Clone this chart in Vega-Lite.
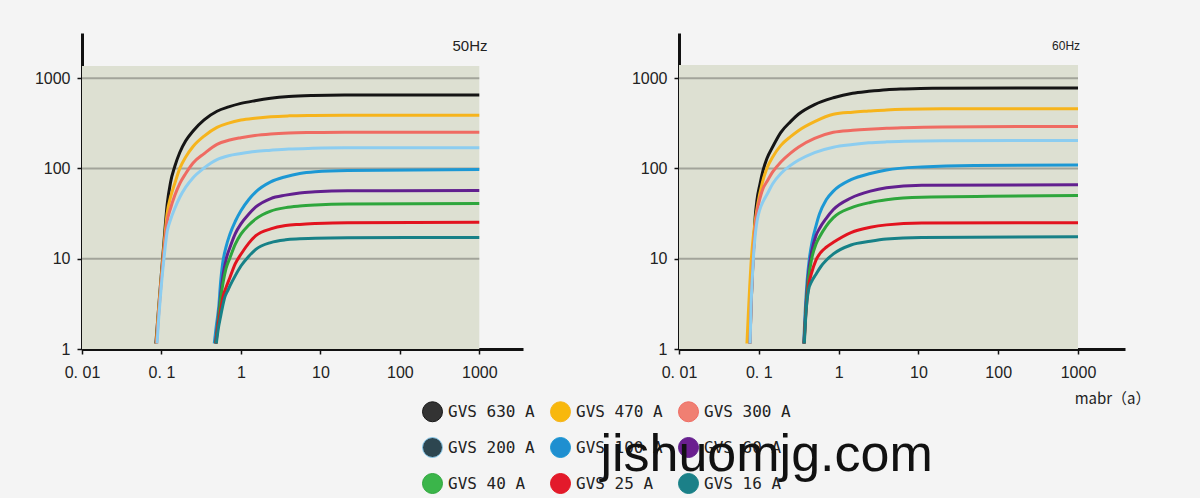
{
"$schema": "https://vega.github.io/schema/vega-lite/v6.json",
"background": "#f4f4f4",
"padding": {"left": 34, "top": 33, "right": 60, "bottom": 5},
"config": {
  "view": {"stroke": null},
  "font": "Liberation Sans",
  "axis": {"grid": false, "domainColor": "#111111", "domainWidth": 3, "tickColor": "#111111", "tickWidth": 1.5, "tickSize": 5, "labelColor": "#222222", "labelFontSize": 16, "labelFont": "Liberation Sans", "labelFlush": false, "labelOverlap": false},
  "axisY": {"labelPadding": 7},
  "axisX": {"labelPadding": 10}
},
"title": {"text": "jishuomjg.com", "orient": "bottom", "anchor": "start", "dx": 566, "offset": -66, "font": "Liberation Sans", "fontSize": 52, "fontWeight": "normal", "color": "#111111", "baseline": "top"},
"datasets": {
"c50": [
{"s":"GVS 630 A","x":0.085,"y":1.15},{"s":"GVS 630 A","x":0.09,"y":2.2},{"s":"GVS 630 A","x":0.095,"y":4},{"s":"GVS 630 A","x":0.1,"y":7},{"s":"GVS 630 A","x":0.107,"y":14.5},{"s":"GVS 630 A","x":0.118,"y":40},{"s":"GVS 630 A","x":0.13,"y":70},{"s":"GVS 630 A","x":0.147,"y":105},{"s":"GVS 630 A","x":0.17,"y":150},{"s":"GVS 630 A","x":0.202,"y":202},{"s":"GVS 630 A","x":0.25,"y":260},{"s":"GVS 630 A","x":0.344,"y":345},{"s":"GVS 630 A","x":0.5,"y":430},{"s":"GVS 630 A","x":0.7,"y":480},{"s":"GVS 630 A","x":1,"y":525},{"s":"GVS 630 A","x":1.5,"y":562},{"s":"GVS 630 A","x":2.37,"y":598},{"s":"GVS 630 A","x":4,"y":625},{"s":"GVS 630 A","x":8,"y":642},{"s":"GVS 630 A","x":20,"y":650},{"s":"GVS 630 A","x":1000,"y":650},
{"s":"GVS 470 A","x":0.086,"y":1.15},{"s":"GVS 470 A","x":0.09,"y":2.1},{"s":"GVS 470 A","x":0.095,"y":3.8},{"s":"GVS 470 A","x":0.1,"y":6.6},{"s":"GVS 470 A","x":0.107,"y":13},{"s":"GVS 470 A","x":0.118,"y":32},{"s":"GVS 470 A","x":0.13,"y":48},{"s":"GVS 470 A","x":0.147,"y":68},{"s":"GVS 470 A","x":0.17,"y":100},{"s":"GVS 470 A","x":0.202,"y":134},{"s":"GVS 470 A","x":0.25,"y":175},{"s":"GVS 470 A","x":0.344,"y":228},{"s":"GVS 470 A","x":0.5,"y":285},{"s":"GVS 470 A","x":0.7,"y":318},{"s":"GVS 470 A","x":1,"y":343},{"s":"GVS 470 A","x":1.5,"y":360},{"s":"GVS 470 A","x":2.37,"y":374},{"s":"GVS 470 A","x":4,"y":382},{"s":"GVS 470 A","x":8,"y":386},{"s":"GVS 470 A","x":20,"y":388},{"s":"GVS 470 A","x":1000,"y":388},
{"s":"GVS 300 A","x":0.087,"y":1.15},{"s":"GVS 300 A","x":0.091,"y":2.1},{"s":"GVS 300 A","x":0.096,"y":3.8},{"s":"GVS 300 A","x":0.1,"y":6},{"s":"GVS 300 A","x":0.107,"y":11.5},{"s":"GVS 300 A","x":0.118,"y":26},{"s":"GVS 300 A","x":0.13,"y":36},{"s":"GVS 300 A","x":0.147,"y":50},{"s":"GVS 300 A","x":0.17,"y":68},{"s":"GVS 300 A","x":0.202,"y":88},{"s":"GVS 300 A","x":0.25,"y":115},{"s":"GVS 300 A","x":0.344,"y":146},{"s":"GVS 300 A","x":0.5,"y":185},{"s":"GVS 300 A","x":0.7,"y":205},{"s":"GVS 300 A","x":1,"y":219},{"s":"GVS 300 A","x":1.5,"y":232},{"s":"GVS 300 A","x":2.37,"y":241},{"s":"GVS 300 A","x":4,"y":247},{"s":"GVS 300 A","x":8,"y":250},{"s":"GVS 300 A","x":20,"y":252},{"s":"GVS 300 A","x":1000,"y":252},
{"s":"GVS 200 A","x":0.088,"y":1.15},{"s":"GVS 200 A","x":0.092,"y":2.1},{"s":"GVS 200 A","x":0.097,"y":3.8},{"s":"GVS 200 A","x":0.101,"y":5.8},{"s":"GVS 200 A","x":0.108,"y":10.5},{"s":"GVS 200 A","x":0.118,"y":20},{"s":"GVS 200 A","x":0.13,"y":27},{"s":"GVS 200 A","x":0.147,"y":36},{"s":"GVS 200 A","x":0.17,"y":48},{"s":"GVS 200 A","x":0.202,"y":62},{"s":"GVS 200 A","x":0.25,"y":79},{"s":"GVS 200 A","x":0.344,"y":101},{"s":"GVS 200 A","x":0.5,"y":125},{"s":"GVS 200 A","x":0.7,"y":138},{"s":"GVS 200 A","x":1,"y":146},{"s":"GVS 200 A","x":1.5,"y":154},{"s":"GVS 200 A","x":2.37,"y":159},{"s":"GVS 200 A","x":4,"y":164},{"s":"GVS 200 A","x":8,"y":167},{"s":"GVS 200 A","x":20,"y":169},{"s":"GVS 200 A","x":1000,"y":169},
{"s":"GVS 100 A","x":0.462,"y":1.15},{"s":"GVS 100 A","x":0.49,"y":1.8},{"s":"GVS 100 A","x":0.527,"y":3},{"s":"GVS 100 A","x":0.555,"y":5.5},{"s":"GVS 100 A","x":0.586,"y":8.6},{"s":"GVS 100 A","x":0.65,"y":13.5},{"s":"GVS 100 A","x":0.727,"y":18.7},{"s":"GVS 100 A","x":0.85,"y":26},{"s":"GVS 100 A","x":1,"y":34},{"s":"GVS 100 A","x":1.25,"y":45},{"s":"GVS 100 A","x":1.54,"y":55},{"s":"GVS 100 A","x":2.37,"y":71},{"s":"GVS 100 A","x":3.65,"y":81},{"s":"GVS 100 A","x":5.5,"y":88},{"s":"GVS 100 A","x":8.6,"y":92},{"s":"GVS 100 A","x":22,"y":95},{"s":"GVS 100 A","x":1000,"y":97},
{"s":"GVS 60 A","x":0.48,"y":1.15},{"s":"GVS 60 A","x":0.51,"y":1.9},{"s":"GVS 60 A","x":0.53,"y":2.6},{"s":"GVS 60 A","x":0.56,"y":4.2},{"s":"GVS 60 A","x":0.6,"y":6.8},{"s":"GVS 60 A","x":0.65,"y":9.8},{"s":"GVS 60 A","x":0.727,"y":13.3},{"s":"GVS 60 A","x":0.85,"y":19},{"s":"GVS 60 A","x":1,"y":24.3},{"s":"GVS 60 A","x":1.25,"y":31},{"s":"GVS 60 A","x":1.54,"y":37.4},{"s":"GVS 60 A","x":2.37,"y":46.4},{"s":"GVS 60 A","x":3.65,"y":50.6},{"s":"GVS 60 A","x":5.5,"y":53.5},{"s":"GVS 60 A","x":8.6,"y":55},{"s":"GVS 60 A","x":22,"y":56.5},{"s":"GVS 60 A","x":1000,"y":57},
{"s":"GVS 40 A","x":0.482,"y":1.15},{"s":"GVS 40 A","x":0.51,"y":1.8},{"s":"GVS 40 A","x":0.53,"y":2.4},{"s":"GVS 40 A","x":0.56,"y":3.8},{"s":"GVS 40 A","x":0.6,"y":5.6},{"s":"GVS 40 A","x":0.65,"y":7.8},{"s":"GVS 40 A","x":0.727,"y":10.2},{"s":"GVS 40 A","x":0.85,"y":14.5},{"s":"GVS 40 A","x":1,"y":18.7},{"s":"GVS 40 A","x":1.25,"y":23.5},{"s":"GVS 40 A","x":1.54,"y":27.6},{"s":"GVS 40 A","x":2.37,"y":33.7},{"s":"GVS 40 A","x":3.65,"y":36.8},{"s":"GVS 40 A","x":5.5,"y":38.3},{"s":"GVS 40 A","x":8.6,"y":39.3},{"s":"GVS 40 A","x":22,"y":40.3},{"s":"GVS 40 A","x":1000,"y":40.8},
{"s":"GVS 25 A","x":0.485,"y":1.15},{"s":"GVS 25 A","x":0.515,"y":1.8},{"s":"GVS 25 A","x":0.54,"y":2.3},{"s":"GVS 25 A","x":0.57,"y":3.1},{"s":"GVS 25 A","x":0.6,"y":3.9},{"s":"GVS 25 A","x":0.65,"y":4.8},{"s":"GVS 25 A","x":0.727,"y":6.2},{"s":"GVS 25 A","x":0.85,"y":8.8},{"s":"GVS 25 A","x":1,"y":11.2},{"s":"GVS 25 A","x":1.25,"y":14.8},{"s":"GVS 25 A","x":1.54,"y":18},{"s":"GVS 25 A","x":2.37,"y":21.4},{"s":"GVS 25 A","x":3.65,"y":23.3},{"s":"GVS 25 A","x":5.5,"y":24},{"s":"GVS 25 A","x":8.6,"y":24.5},{"s":"GVS 25 A","x":22,"y":25.1},{"s":"GVS 25 A","x":1000,"y":25.4},
{"s":"GVS 16 A","x":0.49,"y":1.15},{"s":"GVS 16 A","x":0.52,"y":1.7},{"s":"GVS 16 A","x":0.55,"y":2.2},{"s":"GVS 16 A","x":0.59,"y":3},{"s":"GVS 16 A","x":0.63,"y":3.8},{"s":"GVS 16 A","x":0.68,"y":4.4},{"s":"GVS 16 A","x":0.727,"y":5},{"s":"GVS 16 A","x":0.85,"y":6.5},{"s":"GVS 16 A","x":1,"y":8.3},{"s":"GVS 16 A","x":1.25,"y":10.6},{"s":"GVS 16 A","x":1.54,"y":12.7},{"s":"GVS 16 A","x":2.37,"y":15.1},{"s":"GVS 16 A","x":3.65,"y":16.2},{"s":"GVS 16 A","x":5.5,"y":16.6},{"s":"GVS 16 A","x":8.6,"y":16.9},{"s":"GVS 16 A","x":22,"y":17.1},{"s":"GVS 16 A","x":1000,"y":17.2}
],
"c60": [
{"s":"GVS 630 A","x":0.0774,"y":1.15},{"s":"GVS 630 A","x":0.08,"y":3},{"s":"GVS 630 A","x":0.083,"y":6.7},{"s":"GVS 630 A","x":0.086,"y":13},{"s":"GVS 630 A","x":0.09,"y":28.5},{"s":"GVS 630 A","x":0.095,"y":45},{"s":"GVS 630 A","x":0.103,"y":66},{"s":"GVS 630 A","x":0.113,"y":95},{"s":"GVS 630 A","x":0.126,"y":128},{"s":"GVS 630 A","x":0.15,"y":175},{"s":"GVS 630 A","x":0.189,"y":251},{"s":"GVS 630 A","x":0.25,"y":330},{"s":"GVS 630 A","x":0.313,"y":398},{"s":"GVS 630 A","x":0.5,"y":510},{"s":"GVS 630 A","x":0.86,"y":606},{"s":"GVS 630 A","x":1.5,"y":680},{"s":"GVS 630 A","x":2.38,"y":714},{"s":"GVS 630 A","x":4,"y":745},{"s":"GVS 630 A","x":6.65,"y":759},{"s":"GVS 630 A","x":15,"y":772},{"s":"GVS 630 A","x":1000,"y":778},
{"s":"GVS 470 A","x":0.071,"y":1.15},{"s":"GVS 470 A","x":0.074,"y":2.5},{"s":"GVS 470 A","x":0.077,"y":5},{"s":"GVS 470 A","x":0.08,"y":9},{"s":"GVS 470 A","x":0.085,"y":17},{"s":"GVS 470 A","x":0.09,"y":26},{"s":"GVS 470 A","x":0.097,"y":40},{"s":"GVS 470 A","x":0.11,"y":68},{"s":"GVS 470 A","x":0.126,"y":100},{"s":"GVS 470 A","x":0.15,"y":135},{"s":"GVS 470 A","x":0.189,"y":180},{"s":"GVS 470 A","x":0.25,"y":225},{"s":"GVS 470 A","x":0.313,"y":262},{"s":"GVS 470 A","x":0.5,"y":330},{"s":"GVS 470 A","x":0.86,"y":398},{"s":"GVS 470 A","x":1.5,"y":420},{"s":"GVS 470 A","x":2.38,"y":432},{"s":"GVS 470 A","x":4,"y":445},{"s":"GVS 470 A","x":6.65,"y":452},{"s":"GVS 470 A","x":20,"y":457},{"s":"GVS 470 A","x":1000,"y":459},
{"s":"GVS 300 A","x":0.0775,"y":1.15},{"s":"GVS 300 A","x":0.08,"y":3},{"s":"GVS 300 A","x":0.083,"y":6.5},{"s":"GVS 300 A","x":0.086,"y":12},{"s":"GVS 300 A","x":0.09,"y":22},{"s":"GVS 300 A","x":0.095,"y":33},{"s":"GVS 300 A","x":0.103,"y":46},{"s":"GVS 300 A","x":0.113,"y":60},{"s":"GVS 300 A","x":0.126,"y":71},{"s":"GVS 300 A","x":0.15,"y":92},{"s":"GVS 300 A","x":0.189,"y":118},{"s":"GVS 300 A","x":0.25,"y":148},{"s":"GVS 300 A","x":0.313,"y":172},{"s":"GVS 300 A","x":0.5,"y":215},{"s":"GVS 300 A","x":0.86,"y":251},{"s":"GVS 300 A","x":1.5,"y":264},{"s":"GVS 300 A","x":2.38,"y":272},{"s":"GVS 300 A","x":4,"y":279},{"s":"GVS 300 A","x":6.65,"y":283},{"s":"GVS 300 A","x":20,"y":288},{"s":"GVS 300 A","x":1000,"y":292},
{"s":"GVS 200 A","x":0.0778,"y":1.15},{"s":"GVS 200 A","x":0.08,"y":3},{"s":"GVS 200 A","x":0.083,"y":6.2},{"s":"GVS 200 A","x":0.086,"y":11},{"s":"GVS 200 A","x":0.09,"y":18},{"s":"GVS 200 A","x":0.095,"y":26},{"s":"GVS 200 A","x":0.103,"y":35},{"s":"GVS 200 A","x":0.113,"y":43},{"s":"GVS 200 A","x":0.126,"y":51},{"s":"GVS 200 A","x":0.15,"y":68},{"s":"GVS 200 A","x":0.189,"y":88},{"s":"GVS 200 A","x":0.25,"y":108},{"s":"GVS 200 A","x":0.313,"y":123},{"s":"GVS 200 A","x":0.5,"y":150},{"s":"GVS 200 A","x":0.86,"y":172},{"s":"GVS 200 A","x":1.5,"y":184},{"s":"GVS 200 A","x":2.38,"y":192},{"s":"GVS 200 A","x":4,"y":197},{"s":"GVS 200 A","x":6.65,"y":200},{"s":"GVS 200 A","x":20,"y":203},{"s":"GVS 200 A","x":1000,"y":204},
{"s":"GVS 100 A","x":0.365,"y":1.15},{"s":"GVS 100 A","x":0.38,"y":2.5},{"s":"GVS 100 A","x":0.403,"y":5.7},{"s":"GVS 100 A","x":0.43,"y":10},{"s":"GVS 100 A","x":0.469,"y":15.9},{"s":"GVS 100 A","x":0.52,"y":23},{"s":"GVS 100 A","x":0.574,"y":31},{"s":"GVS 100 A","x":0.7,"y":45},{"s":"GVS 100 A","x":0.86,"y":56},{"s":"GVS 100 A","x":1.43,"y":75},{"s":"GVS 100 A","x":2.5,"y":88},{"s":"GVS 100 A","x":3.98,"y":96},{"s":"GVS 100 A","x":11,"y":104},{"s":"GVS 100 A","x":50,"y":108},{"s":"GVS 100 A","x":1000,"y":109},
{"s":"GVS 60 A","x":0.368,"y":1.15},{"s":"GVS 60 A","x":0.39,"y":3},{"s":"GVS 60 A","x":0.42,"y":7},{"s":"GVS 60 A","x":0.46,"y":12},{"s":"GVS 60 A","x":0.52,"y":18},{"s":"GVS 60 A","x":0.574,"y":21.5},{"s":"GVS 60 A","x":0.7,"y":28},{"s":"GVS 60 A","x":0.86,"y":35},{"s":"GVS 60 A","x":1.43,"y":47},{"s":"GVS 60 A","x":2.5,"y":56},{"s":"GVS 60 A","x":3.98,"y":61},{"s":"GVS 60 A","x":11,"y":65},{"s":"GVS 60 A","x":1000,"y":66},
{"s":"GVS 40 A","x":0.369,"y":1.15},{"s":"GVS 40 A","x":0.39,"y":2.8},{"s":"GVS 40 A","x":0.42,"y":6},{"s":"GVS 40 A","x":0.46,"y":10},{"s":"GVS 40 A","x":0.52,"y":14.5},{"s":"GVS 40 A","x":0.574,"y":17.3},{"s":"GVS 40 A","x":0.7,"y":23},{"s":"GVS 40 A","x":0.86,"y":28.5},{"s":"GVS 40 A","x":1.43,"y":36.6},{"s":"GVS 40 A","x":2.5,"y":42},{"s":"GVS 40 A","x":3.98,"y":45},{"s":"GVS 40 A","x":11,"y":48},{"s":"GVS 40 A","x":1000,"y":50},
{"s":"GVS 25 A","x":0.37,"y":1.15},{"s":"GVS 25 A","x":0.39,"y":2.6},{"s":"GVS 25 A","x":0.42,"y":5},{"s":"GVS 25 A","x":0.46,"y":7},{"s":"GVS 25 A","x":0.519,"y":9.6},{"s":"GVS 25 A","x":0.6,"y":11.8},{"s":"GVS 25 A","x":0.7,"y":13.4},{"s":"GVS 25 A","x":0.86,"y":15.2},{"s":"GVS 25 A","x":1.43,"y":19.5},{"s":"GVS 25 A","x":2.5,"y":22.3},{"s":"GVS 25 A","x":3.98,"y":23.7},{"s":"GVS 25 A","x":11,"y":24.8},{"s":"GVS 25 A","x":1000,"y":25.1},
{"s":"GVS 16 A","x":0.372,"y":1.15},{"s":"GVS 16 A","x":0.39,"y":2.5},{"s":"GVS 16 A","x":0.42,"y":4.5},{"s":"GVS 16 A","x":0.46,"y":5.6},{"s":"GVS 16 A","x":0.519,"y":6.7},{"s":"GVS 16 A","x":0.6,"y":8.2},{"s":"GVS 16 A","x":0.7,"y":9.6},{"s":"GVS 16 A","x":0.86,"y":11.3},{"s":"GVS 16 A","x":1.43,"y":14.2},{"s":"GVS 16 A","x":2.5,"y":15.6},{"s":"GVS 16 A","x":3.98,"y":16.5},{"s":"GVS 16 A","x":11,"y":17.2},{"s":"GVS 16 A","x":1000,"y":17.5}
]
},
"spacing": 108,
"hconcat": [
{
  "width": 441, "height": 316,
  "layer": [
    {"data": {"values": [{"band": "bg"}]}, "mark": {"type": "rect", "color": "#dde0d2"},
     "encoding": {
       "x": {"datum": 0.01, "type": "quantitative", "title": null, "scale": {"type": "log", "domain": [0.01, 3548]}, "axis": {"values": [0.01, 0.1, 1, 10, 100, 1000], "labelExpr": "datum.value < 0.05 ? '0. 01' : datum.value < 0.5 ? '0. 1' : format(datum.value, 'd')"}},
       "x2": {"datum": 1000},
       "y": {"datum": 1, "type": "quantitative", "title": null, "scale": {"type": "log", "domain": [1, 3162]}, "axis": {"values": [1, 10, 100, 1000], "format": "d"}},
       "y2": {"datum": 1360}}},
    {"data": {"values": [{"g": 10}, {"g": 100}, {"g": 1000}]}, "mark": {"type": "rule", "color": "#a2a49a", "strokeWidth": 2},
     "encoding": {
       "y": {"field": "g", "type": "quantitative", "title": null, "scale": {"type": "log", "domain": [1, 3162]}, "axis": {"values": [1, 10, 100, 1000], "format": "d"}},
       "x": {"datum": 0.01, "type": "quantitative", "title": null, "scale": {"type": "log", "domain": [0.01, 3548]}, "axis": {"values": [0.01, 0.1, 1, 10, 100, 1000], "labelExpr": "datum.value < 0.05 ? '0. 01' : datum.value < 0.5 ? '0. 1' : format(datum.value, 'd')"}},
       "x2": {"datum": 1000}}},
    {"data": {"name": "c50"}, "mark": {"type": "line", "strokeWidth": 3, "interpolate": "monotone"},
     "encoding": {
       "x": {"field": "x", "type": "quantitative", "title": null, "scale": {"type": "log", "domain": [0.01, 3548]}, "axis": {"values": [0.01, 0.1, 1, 10, 100, 1000], "labelExpr": "datum.value < 0.05 ? '0. 01' : datum.value < 0.5 ? '0. 1' : format(datum.value, 'd')"}},
       "y": {"field": "y", "type": "quantitative", "title": null, "scale": {"type": "log", "domain": [1, 3162]}, "axis": {"values": [1, 10, 100, 1000], "format": "d"}},
       "stroke": {"field": "s", "type": "nominal",
         "scale": {"domain": ["GVS 630 A", "GVS 470 A", "GVS 300 A", "GVS 200 A", "GVS 100 A", "GVS 60 A", "GVS 40 A", "GVS 25 A", "GVS 16 A"], "range": ["#151515", "#f6b41c", "#ef6b62", "#8ccdf0", "#1c98d4", "#62208f", "#2ea63c", "#e2141f", "#178187"]},
         "legend": {"title": null, "orient": "none", "direction": "horizontal", "legendX": 340, "legendY": 368, "columns": 3, "symbolType": "circle", "symbolSize": 400, "labelFont": "DejaVu Sans Mono", "labelFontSize": 16, "labelColor": "#222222", "labelOffset": 5, "columnPadding": 13, "rowPadding": 11, "padding": 0,
           "encode": {"symbols": {"update": {"fill": {"signal": "['#333333','#f8b80c','#f07f72','#2d4650','#1f8fd0','#6b1f8f','#3bb54a','#e31a2b','#1b8088'][indexof(['GVS 630 A','GVS 470 A','GVS 300 A','GVS 200 A','GVS 100 A','GVS 60 A','GVS 40 A','GVS 25 A','GVS 16 A'], datum.value)]"}, "stroke": {"value": "#222222"}, "strokeWidth": {"value": 1}, "opacity": {"value": 1}}}}}
       }
     }},
    {"data": {"values": [{"t": "50Hz"}]}, "mark": {"type": "text", "fontSize": 15, "color": "#222222"},
     "encoding": {
       "x": {"datum": 764, "type": "quantitative", "title": null, "scale": {"type": "log", "domain": [0.01, 3548]}, "axis": {"values": [0.01, 0.1, 1, 10, 100, 1000], "labelExpr": "datum.value < 0.05 ? '0. 01' : datum.value < 0.5 ? '0. 1' : format(datum.value, 'd')"}},
       "y": {"datum": 2270, "type": "quantitative", "title": null, "scale": {"type": "log", "domain": [1, 3162]}, "axis": {"values": [1, 10, 100, 1000], "format": "d"}},
       "text": {"field": "t"}}}
  ]
},
{
  "width": 446, "height": 316,
  "layer": [
    {"data": {"values": [{"band": "bg"}]}, "mark": {"type": "rect", "color": "#dde0d2"},
     "encoding": {
       "x": {"datum": 0.01, "type": "quantitative", "title": "mabr（a）", "scale": {"type": "log", "domain": [0.01, 3880]}, "axis": {"values": [0.01, 0.1, 1, 10, 100, 1000], "titleFont": "Noto Sans CJK SC", "titleFontSize": 15, "titleFontWeight": "normal", "titleColor": "#222222", "titleAnchor": "end", "titleAlign": "right", "titleX": 471, "titleY": 49, "titleBaseline": "middle", "labelExpr": "datum.value < 0.05 ? '0. 01' : datum.value < 0.5 ? '0. 1' : format(datum.value, 'd')"}},
       "x2": {"datum": 1000},
       "y": {"datum": 1, "type": "quantitative", "title": null, "scale": {"type": "log", "domain": [1, 3162]}, "axis": {"values": [1, 10, 100, 1000], "format": "d"}},
       "y2": {"datum": 1400}}},
    {"data": {"values": [{"g": 10}, {"g": 100}, {"g": 1000}]}, "mark": {"type": "rule", "color": "#a2a49a", "strokeWidth": 2},
     "encoding": {
       "y": {"field": "g", "type": "quantitative", "title": null, "scale": {"type": "log", "domain": [1, 3162]}, "axis": {"values": [1, 10, 100, 1000], "format": "d"}},
       "x": {"datum": 0.01, "type": "quantitative", "title": "mabr（a）", "scale": {"type": "log", "domain": [0.01, 3880]}, "axis": {"values": [0.01, 0.1, 1, 10, 100, 1000], "titleFont": "Noto Sans CJK SC", "titleFontSize": 15, "titleFontWeight": "normal", "titleColor": "#222222", "titleAnchor": "end", "titleAlign": "right", "titleX": 471, "titleY": 49, "titleBaseline": "middle", "labelExpr": "datum.value < 0.05 ? '0. 01' : datum.value < 0.5 ? '0. 1' : format(datum.value, 'd')"}},
       "x2": {"datum": 1000}}},
    {"data": {"name": "c60"}, "mark": {"type": "line", "strokeWidth": 3, "interpolate": "monotone"},
     "encoding": {
       "x": {"field": "x", "type": "quantitative", "title": "mabr（a）", "scale": {"type": "log", "domain": [0.01, 3880]}, "axis": {"values": [0.01, 0.1, 1, 10, 100, 1000], "titleFont": "Noto Sans CJK SC", "titleFontSize": 15, "titleFontWeight": "normal", "titleColor": "#222222", "titleAnchor": "end", "titleAlign": "right", "titleX": 471, "titleY": 49, "titleBaseline": "middle", "labelExpr": "datum.value < 0.05 ? '0. 01' : datum.value < 0.5 ? '0. 1' : format(datum.value, 'd')"}},
       "y": {"field": "y", "type": "quantitative", "title": null, "scale": {"type": "log", "domain": [1, 3162]}, "axis": {"values": [1, 10, 100, 1000], "format": "d"}},
       "stroke": {"field": "s", "type": "nominal"}
     }},
    {"data": {"values": [{"t": "60Hz"}]}, "mark": {"type": "text", "fontSize": 12, "color": "#222222"},
     "encoding": {
       "x": {"datum": 708, "type": "quantitative", "title": "mabr（a）", "scale": {"type": "log", "domain": [0.01, 3880]}, "axis": {"values": [0.01, 0.1, 1, 10, 100, 1000], "titleFont": "Noto Sans CJK SC", "titleFontSize": 15, "titleFontWeight": "normal", "titleColor": "#222222", "titleAnchor": "end", "titleAlign": "right", "titleX": 471, "titleY": 49, "titleBaseline": "middle", "labelExpr": "datum.value < 0.05 ? '0. 01' : datum.value < 0.5 ? '0. 1' : format(datum.value, 'd')"}},
       "y": {"datum": 2270, "type": "quantitative", "title": null, "scale": {"type": "log", "domain": [1, 3162]}, "axis": {"values": [1, 10, 100, 1000], "format": "d"}},
       "text": {"field": "t"}}}
  ]
}
]
}
